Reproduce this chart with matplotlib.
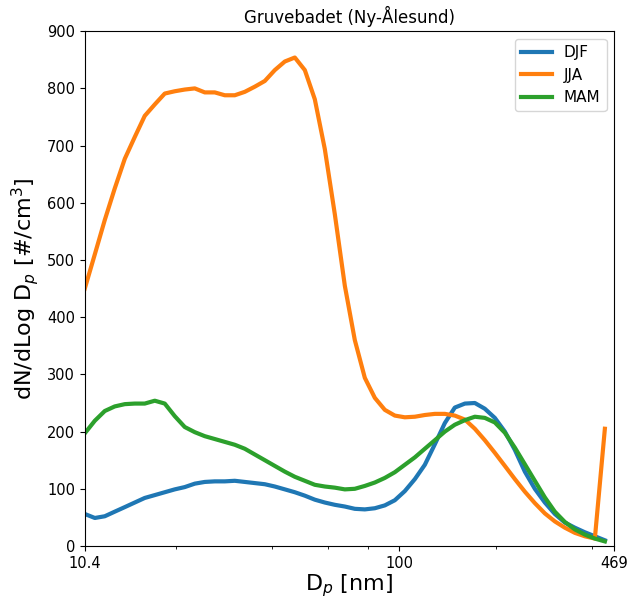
import numpy as np
import matplotlib
matplotlib.use("Agg")
import matplotlib.pyplot as plt

# SMPS bin mid diameters [nm]
dp = [10.40, 11.18, 12.01, 12.90, 13.87, 14.90, 16.01, 17.21, 18.49, 19.87,
      21.35, 22.95, 24.66, 26.50, 28.48, 30.60, 32.89, 35.34, 37.98, 40.81,
      43.86, 47.13, 50.65, 54.42, 58.48, 62.85, 67.54, 72.57, 77.99, 83.81,
      90.06, 96.78, 104.0, 111.8, 120.1, 129.1, 138.7, 149.0, 160.2, 172.1,
      184.9, 198.7, 213.6, 229.5, 246.6, 265.0, 284.8, 306.0, 328.9, 353.4,
      379.8, 408.1, 438.6]

# seasonal median size distributions, dN/dlogDp [#/cm3]
djf = [56, 49, 52, 60, 68, 76, 84, 89, 94, 99,
       103, 109, 112, 113, 113, 114, 112, 110, 108, 104,
       99, 94, 88, 81, 76, 72, 69, 65, 64, 66,
       71, 80, 96, 117, 142, 178, 215, 242, 249, 250,
       240, 224, 200, 168, 130, 100, 76, 56, 41, 32,
       24, 17, 10]
jja = [450, 510, 570, 625, 677, 715, 752, 772, 791, 795,
       798, 800, 793, 793, 788, 788, 794, 803, 813, 832,
       847, 854, 832, 781, 694, 580, 455, 360, 294, 259,
       238, 228, 225, 226, 229, 231, 231, 228, 221, 205,
       185, 163, 140, 117, 95, 75, 57, 43, 32, 23,
       17, 13, 205]
mam = [197, 219, 236, 244, 248, 249, 249, 254, 249, 227,
       208, 199, 192, 187, 182, 177, 170, 160, 150, 140,
       130, 121, 114, 107, 104, 102, 99, 100, 105, 111,
       119, 129, 142, 155, 170, 185, 200, 212, 220, 226,
       224, 216, 198, 172, 143, 114, 85, 60, 42, 29,
       20, 13, 8]

xticks = [10.4, 100, 469]
xminor = [20, 40, 60, 80, 200, 400]

fig = plt.figure(figsize=(6.28, 6.0), dpi=100)
ax = fig.add_axes([0.135, 0.09, 0.843, 0.858])

ax.plot(dp, djf, color='tab:blue', lw=3, label='DJF')
ax.plot(dp, jja, color='tab:orange', lw=3, label='JJA')
ax.plot(dp, mam, color='tab:green', lw=3, label='MAM')

ax.set_xscale('log')
ax.set_xlim(10.4, 469)
ax.set_ylim(0, 900)
ax.set_xticks(xticks)
ax.set_xticklabels([str(t) for t in xticks])
ax.set_xticks(xminor, minor=True)
ax.set_xticklabels([], minor=True)
ax.tick_params(labelsize=10.5)

ax.set_title('Gruvebadet (Ny-Ålesund)', fontsize=12)
ax.set_xlabel('D$_p$ [nm]', fontsize=16, labelpad=1)
ax.set_ylabel('dN/dLog D$_p$ [#/cm$^3$]', fontsize=16)
ax.legend(loc='upper right', fontsize=11)

fig.savefig('out.png', dpi=100)
